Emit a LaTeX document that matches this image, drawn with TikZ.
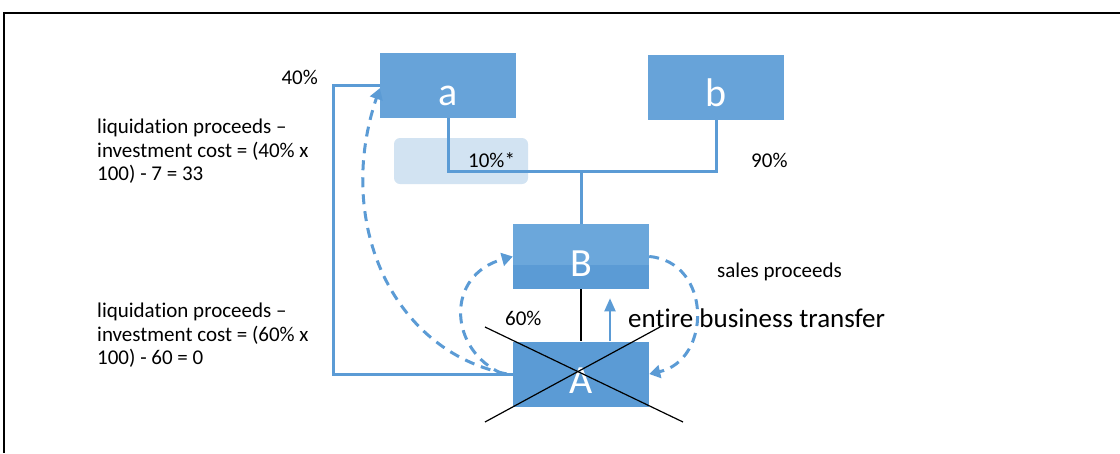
\documentclass[tikz,border=0pt]{standalone}
\usepackage{fontspec}
\setmainfont[Ligatures={NoCommon}]{Carlito}
\usetikzlibrary{arrows.meta}
\definecolor{boxblue}{HTML}{5B9BD5}
\definecolor{boxlight}{HTML}{67A3D9}
\definecolor{boxtop}{HTML}{6BA7DB}
\definecolor{shade}{HTML}{D2E3F2}
\begin{document}
\begin{tikzpicture}[x=1pt,y=-1pt,
  box/.style={fill=boxlight, draw=none, minimum width=136pt, minimum height=65pt, inner sep=0pt,
    text=white, font=\fontsize{40}{40}\selectfont, text height=39pt, text depth=0pt},
  conn/.style={draw=boxblue, line width=3pt},
  dashconn/.style={draw=boxblue, line width=3pt, dash pattern=on 10pt off 7pt, -{Triangle[width=13pt,length=11pt]}},
  lbl/.style={inner sep=0pt, font=\fontsize{21}{23.5}\selectfont, text=black},
  cross/.style={draw=black, line width=1.2pt}]
\useasboundingbox (0,0) rectangle (1120,453);
\draw[line width=2.5pt] (1120,13) -- (4,13) -- (4,453);

% shaded highlight
\node[fill=shade, rounded corners=6pt, minimum width=134pt, minimum height=46pt, inner sep=0pt] (hl) at (461,161) {};

% boxes
\node[box] (na) at (448,85.5) {a};
\node[box] (nb) at (716,87) {b};
\node[box, fill=boxblue, path picture={\fill[boxtop] (path picture bounding box.north west) rectangle ([yshift=-41pt]path picture bounding box.north east);}] (nB) at (581,256.5) {B};
\node[box, fill=boxblue] (nA) at (581,374) {A};

% ownership connectors
\coordinate (j) at (581,171);
\draw[conn] (na.south) |- (j) -| (nb.south);
\draw[conn] (j) -- (nB.north);

% solid line A to a
\coordinate (c2) at (333,85.5);
\draw[conn] (nA.west) -| (c2) -- (na.west);

% B-A black line
\draw[black, line width=1.3pt] (nB.south) -- (nA.north);

% up arrow
\draw[draw=boxblue, line width=2pt, -{Triangle[width=11pt,length=13pt]}] ([xshift=29pt]nA.north) -- ++(0,-43);

% dashed curves
\draw[dashconn] ([xshift=-6pt]nA.west) .. controls (390,350) and (335,220) .. ([yshift=30pt]na.south west);
\draw[dashconn] ([xshift=-10pt]nA.west) .. controls (448,350) and (445,275) .. (nB.west);
\draw[dashconn] (nB.east) .. controls (712,262) and (712,360) .. (nA.east);

% cross
\coordinate (x1) at (485,327);
\coordinate (x2) at (683,422);
\coordinate (x3) at (485,422);
\coordinate (x4) at (660,327);
\draw[cross] (x1) -- (x2);
\draw[cross] (x3) -- (x4);

% labels
\node[lbl, anchor=base east] (p40) at (318,84) {40\%};
\node[lbl, anchor=base west] (p10) at (468,167) {10\%*};
\node[lbl, anchor=base west] (p90) at (751,167) {90\%};
\node[lbl, anchor=base west] (p60) at (505,325) {60\%};
\node[lbl, anchor=base west] (sp) at (717,277) {sales proceeds};
\node[inner sep=0pt, font=\fontsize{27}{30}\selectfont, anchor=base west] (ebt) at (628,327) {entire business transfer};
\node[lbl, anchor=north west, align=left] (t1) at (97,119) {liquidation proceeds --\\investment cost = (40\% x\\100) - 7 = 33};
\node[lbl, anchor=north west, align=left] (t2) at (97,303) {liquidation proceeds --\\investment cost = (60\% x\\100) - 60 = 0};
\end{tikzpicture}
\end{document}
